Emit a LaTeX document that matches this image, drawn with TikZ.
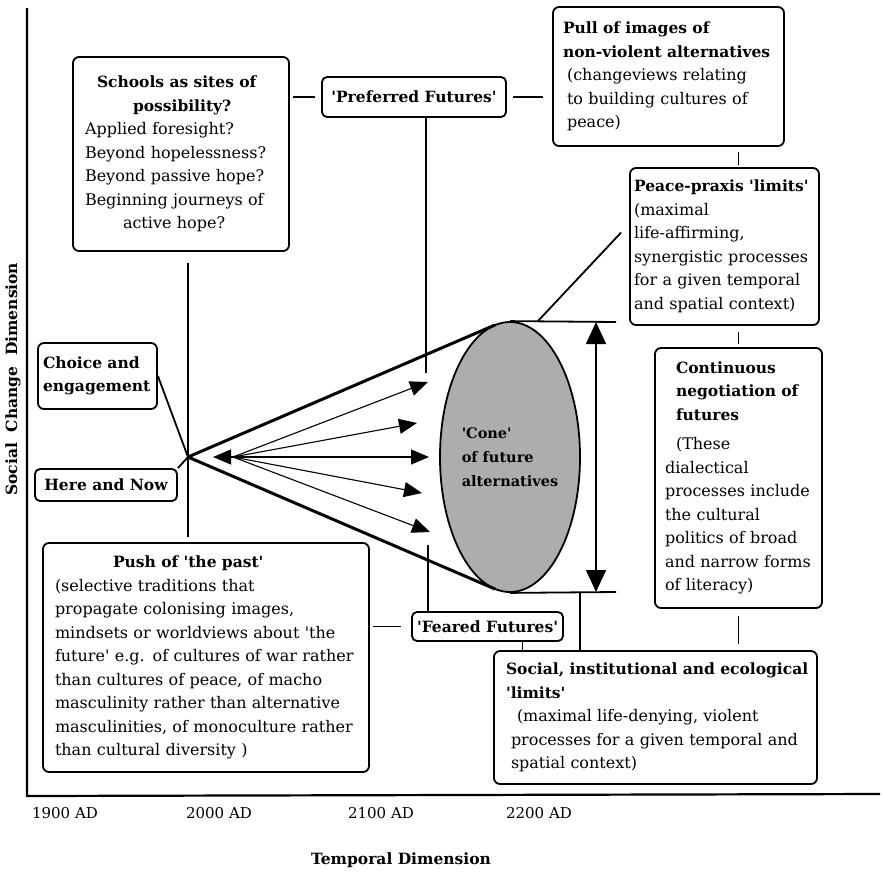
\documentclass[tikz,border=0pt]{standalone}
\usepackage{fontspec}
\setmainfont{DejaVu Serif}
\usetikzlibrary{arrows.meta,shapes.geometric}
\newcommand{\sq}{\textquotesingle}
\newcommand{\hd}[1]{{\fontsize{15.5}{23.5}\selectfont\bfseries #1}}
\begin{document}
\begin{tikzpicture}[x=1pt,y=-1pt,
    box/.style={draw, rounded corners=6pt, line width=1.8pt, align=left, inner ysep=0pt,
      font=\fontsize{16}{23.5}\selectfont},
    tag/.style={draw, rounded corners=5pt, line width=1.8pt, inner sep=2pt,
      font=\fontsize{15.5}{20}\selectfont\bfseries},
    link/.style={line width=1.8pt},
    coneline/.style={line width=3pt},
    fanarrow/.style={line width=1.1pt, -{Triangle[length=18pt,width=15pt]}},
    year/.style={font=\fontsize{15}{18}\selectfont}]
    \useasboundingbox (0,0) rectangle (882,873);

    % Axes
    \coordinate (ytop) at (27,8);
    \coordinate (origin) at (27,796);
    \coordinate (xend) at (880,794);
    \draw[line width=2.2pt] (ytop) -- (origin) -- (xend);
    \node[year] (y1900) at (65,813) {1900 AD};
    \node[year] (y2000) at (219,813) {2000 AD};
    \node[year] (y2100) at (381,813) {2100 AD};
    \node[year] (y2200) at (539,813) {2200 AD};
    \node[font=\fontsize{15.5}{20}\selectfont\bfseries] (xlabel) at (401,860) {Temporal Dimension};
    \node[rotate=90, anchor=west, inner sep=0pt, font=\fontsize{15.5}{20}\selectfont\bfseries]
      (ylabel) at (13,496) {Social\ \ Change\ \ Dimension};

    % Boxes
    \node[box, text width=192pt, inner xsep=12pt, minimum height=194pt] (schools) at (181,154)
      {\hspace*{12pt}\hd{Schools as sites of}\\
       \hspace*{48pt}\hd{possibility?}\\
       Applied foresight?\\ Beyond hopelessness?\\ Beyond passive hope?\\
       Beginning journeys of\\ \hspace*{38pt}active hope?};
    \node[tag, minimum width=184pt, minimum height=40pt] (pref) at (414,97) {\sq Preferred Futures\sq};
    \node[box, text width=211pt, inner xsep=10pt, minimum height=139pt] (pull) at (668.5,76.5)
      {\hd{Pull of images of}\\ \hd{non-violent alternatives}\\
       \hspace*{4pt}(changeviews relating\\ \hspace*{4pt}to building cultures of\\ \hspace*{4pt}peace)};
    \node[box, text width=181pt, inner xsep=4pt, minimum height=157pt] (peace) at (724.5,246.5)
      {\hd{Peace-praxis \sq limits\sq}\\ (maximal\\ life-affirming,\\
       synergistic processes\\ for a given temporal\\ and spatial context)};
    \node[box, text width=147pt, inner xsep=10pt, minimum height=260pt] (cont) at (738.5,478)
      {\hspace*{11pt}\hd{Continuous}\\ \hspace*{11pt}\hd{negotiation of}\\
       \hspace*{11pt}\hd{futures}\\[6pt]
       \hspace*{11pt}(These\\ dialectical\\ processes include\\ the cultural\\
       politics of broad\\ and narrow forms\\ of literacy)};
    \node[box, text width=109pt, inner xsep=5pt, minimum height=66pt] (choice) at (97.5,376)
      {\hd{Choice and}\\ \hd{engagement}};
    \node[tag, minimum width=142pt, minimum height=32pt] (here) at (106,485) {Here and Now};
    \node[box, text width=302pt, inner xsep=12pt, minimum height=229pt] (push) at (206,657.5)
      {\hspace*{58pt}\hd{Push of \sq the past\sq}\\
       (selective traditions that\\ propagate colonising images,\\
       mindsets or worldviews about \sq the\\ future\sq{} e.g. of cultures of war rather\\
       than cultures of peace, of macho\\ masculinity rather than alternative\\
       masculinities, of monoculture rather\\ than cultural diversity )};
    \node[tag, minimum width=151pt, minimum height=29pt] (feared) at (487.5,626.5) {\sq Feared Futures\sq};
    \node[box, text width=299pt, inner xsep=12pt, minimum height=133pt] (social) at (655.5,717.5)
      {\mbox{\hd{Social, institutional and ecological}}\\ \hd{\sq limits\sq}\\
       \hspace*{11pt}(maximal life-denying, violent\\
       \hspace*{5pt}processes for a given temporal and\\ \hspace*{5pt}spatial context)};

    % Cone
    \node[ellipse, draw, line width=1.8pt, fill=black!32, minimum width=140pt, minimum height=270pt,
      inner sep=0pt, align=left, font=\fontsize{14.5}{24}\selectfont\bfseries] (cone) at (510,457)
      {\sq Cone\sq\\ of future\\ alternatives};
    \coordinate (apex) at (188,457);
    \coordinate (fan) at (233,457);
    \coordinate (ctop) at (495,325);
    \coordinate (cbot) at (495,589);
    \coordinate (htop) at (616,322);
    \coordinate (hbot) at (616,592);
    \coordinate (dtop) at (596,322);
    \coordinate (dbot) at (596,592);
    \coordinate (drop) at (580,592);
    \coordinate (lnk) at (538,321);
    \coordinate (ptick) at (426,373);
    \coordinate (ftick) at (428,545);
    \coordinate (back) at (213,457);

    \draw[coneline] (apex) -- (ctop);
    \draw[coneline] (apex) -- (cbot);
    \draw[link] (cone.north) -- (htop);
    \draw[link] (cone.south) -- (hbot);
    \draw[line width=1.5pt, {Triangle[length=22pt,width=20pt]}-{Triangle[length=22pt,width=20pt]}] (dtop) -- (dbot);
    \foreach \tx/\ty [count=\i] in {428/382, 417/423, 429/457, 422/493, 430/532} {
      \coordinate (tip\i) at (\tx,\ty);
      \draw[fanarrow] (fan) -- (tip\i);
    }
    \draw[fanarrow] (fan) -- (back);

    % Links
    \draw[link, shorten <=11pt, shorten >=5pt] (schools.south -| apex) -- (push.north -| apex);
    \draw[link] (choice.east) -- (apex) -- (here.north east);
    \draw[link, shorten <=3pt, shorten >=6pt] (schools.east |- pref.west) -- (pref.west);
    \draw[link, shorten <=6pt, shorten >=9pt] (pref.east) -- (pref.east -| pull.west);
    \draw[link, shorten <=5pt, shorten >=2pt] (pull.south -| cont.north) -- (peace.north -| cont.north);
    \draw[link, shorten <=6pt, shorten >=3pt] (peace.south -| cont.north) -- (cont.north);
    \draw[link, shorten <=7pt, shorten >=6pt] (cont.south) -- (cont.south |- social.north);
    \draw[link, shorten <=3pt, shorten >=10pt] (push.east |- feared.west) -- (feared.west);
    \draw[link] (lnk) -- ([xshift=-8pt,yshift=14pt]peace.west);
    \draw[link] (pref.south -| ptick) -- (ptick);
    \draw[link] (feared.north -| ftick) -- (ftick);
    \draw[link] ([xshift=35pt]feared.south) -- ([xshift=35pt]feared.south |- social.north);
    \draw[link] (drop) -- (drop |- social.north);
\end{tikzpicture}
\end{document}
